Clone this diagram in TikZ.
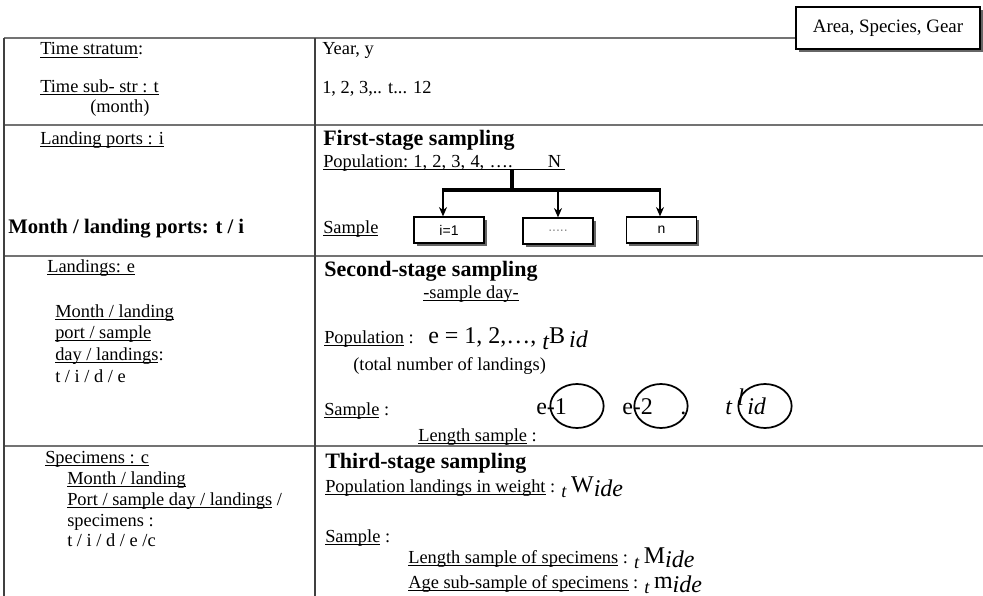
\documentclass[tikz,border=0pt]{standalone}
\usepackage{fontspec}
\setmainfont{Liberation Serif}
\newfontfamily\arialf{Liberation Sans}
\usetikzlibrary{shapes.geometric,shadows,arrows.meta}
\newcommand\myul[1]{\setbox0\hbox{#1}\rlap{\rule[-1.9pt]{\wd0}{0.6pt}}\box0\relax}
\newcommand\bigf{\fontsize{18}{20}\selectfont}
\begin{document}
\begin{tikzpicture}[x=0.75pt,y=-0.75pt,
  txt/.style={anchor=base west,inner sep=0pt,font=\fontsize{13.8}{16}\selectfont},
  hd/.style={anchor=base west,inner sep=0pt,font=\fontsize{16.5}{19}\selectfont\bfseries},
  hrule/.style={draw=black!55,line width=1.3pt},
  vrule/.style={draw=black!75,line width=1pt},
  sbox/.style={draw=black,line width=0.9pt,fill=white,minimum width=52.5pt,minimum height=19.5pt,inner sep=0pt,
    font=\arialf\fontsize{10.5}{12}\selectfont,
    drop shadow={shadow xshift=2pt,shadow yshift=-2pt,fill=black!60,opacity=1}},
  ring/.style={draw=black,line width=1.3pt,ellipse,minimum width=40pt,minimum height=33pt,inner sep=0pt},
  tree/.style={draw=black,line width=2.4pt},
  arr/.style={draw=black,line width=1pt,-{Stealth[length=7pt,width=6pt]}}
]
\useasboundingbox (0,0) rectangle (983,596);
% table
\draw[hrule] (4,38) -- (983,38);
\draw[hrule] (4,125) -- (983,125);
\draw[hrule] (4,256) -- (983,256);
\draw[hrule] (4,446) -- (983,446);
\draw[vrule] (4,38) -- (4,596);
\draw[vrule] (315,38) -- (315,596);
% top box
\node[draw=black,line width=0.9pt,fill=white,minimum width=138pt,minimum height=31.5pt,inner sep=0pt,
  font=\fontsize{14.2}{16}\selectfont,
  drop shadow={shadow xshift=2.2pt,shadow yshift=-2.2pt,fill=black!60,opacity=1}] (asg) at (888,28) {Area, Species, Gear};
% left column
\node[txt] (n1) at (40,55) {\myul{Time stratum}:};
\node[txt] (n2) at (40,92) {\myul{Time sub- str : t}};
\node[txt] (n3) at (90,112) {(month)};
\node[txt] (n4) at (40,144) {\myul{Landing ports : i}};
\node[txt,font=\fontsize{15.5}{18}\selectfont\bfseries] (n5) at (8,233) {Month / landing ports: t / i};
\node[txt] (n6) at (47,272) {\myul{Landings: e}};
\node[txt] (n7) at (55,317) {\myul{Month / landing}};
\node[txt] (n8) at (55,338) {\myul{port / sample}};
\node[txt] (n9) at (55,360) {\myul{day / landings}:};
\node[txt] (n10) at (55,382) {t / i / d / e};
\node[txt] (n11) at (45,463) {\myul{Specimens : c}};
\node[txt] (n12) at (67,484) {\myul{Month / landing}};
\node[txt] (n13) at (67,505) {\myul{Port / sample day / landings} /};
\node[txt] (n14) at (67,526) {specimens :};
\node[txt] (n15) at (67,546) {t / i / d / e /c};
% right column, row 1
\node[txt] (r1) at (322,55) {Year, y};
\node[txt] (r2) at (322,93) {1, 2, 3,.. t... 12};
% first stage
\node[hd] (r3) at (323,145) {First-stage sampling};
\node[txt] (r4) at (323,167) {\myul{\hbox to 181.5pt{\hbox to 142pt{Population:\hfill 1,\hfill 2,\hfill 3,\hfill 4,\hfill ….}\hfill N\hspace{3pt}}}};
\node[txt] (r5) at (323,233) {\myul{Sample}};
\node[sbox] (b1) at (449,230) {i=1};
\node[sbox,text=black!45] (b2) at (558,231) {.....};
\node[sbox] (b3) at (661.5,230) {n};
\coordinate (stemtop) at (512,170);
\coordinate (hub) at (512,190);
\coordinate (a1) at (443,190);
\coordinate (a2) at (558,190);
\coordinate (a3) at (660,190);
\draw[tree] (stemtop) -- (hub);
\draw[tree] ([xshift=-0.9pt]a1) -- ([xshift=0.9pt]a3);
\draw[arr] (a1) -- (a1 |- b1.north);
\draw[arr] (a2) -- (a2 |- b2.north);
\draw[arr] (a3) -- (a3 |- b3.north);
% second stage
\node[hd] (r6) at (324,276) {Second-stage sampling};
\node[txt] (r7) at (423,298) {\myul{-sample day-}};
\node[txt] (r8) at (324,343) {\myul{Population} :};
\node[txt] (f1) at (428,343) {\bigf e = 1, 2,…, \raisebox{-5pt}{\itshape t}B\,\raisebox{-3.5pt}{\itshape id}};
\node[txt] (r9) at (353,370) {(total number of landings)};
\node[txt] (r10) at (324,415) {\myul{Sample} :};
\node[txt] (e1) at (536,414) {\bigf e-1};
\node[txt] (e2) at (622,414) {\bigf e-2};
\node[txt] (e2d) at (680,414) {\bigf .};
\node[txt] (e3t) at (725,414) {\bigf\itshape t};
\node[txt] (e3l) at (737,405) {\bigf\itshape l};
\node[txt] (e3i) at (747,414) {\bigf\itshape id};
\node[ring] (c1) at (577,406) {};
\node[ring] (c2) at (661,406) {};
\node[ring] (c3) at (765,406) {};
\node[txt] (r11) at (418,441) {\myul{Length sample} :};
% third stage
\node[hd] (r12) at (325,468) {Third-stage sampling};
\node[txt] (r13) at (325,492) {\myul{Population landings in weight} : \raisebox{-4pt}{\itshape t} {\bigf W\raisebox{-3pt}{\itshape ide}}};
\node[txt] (r14) at (325,542) {\myul{Sample} :};
\node[txt] (r15) at (408,563) {\myul{Length sample of specimens} : \raisebox{-4pt}{\itshape t} {\bigf M\raisebox{-3pt}{\itshape ide}}};
\node[txt] (r16) at (408,588) {\myul{Age sub-sample of specimens} : \raisebox{-4pt}{\itshape t} {\bigf m\raisebox{-3pt}{\itshape ide}}};
\end{tikzpicture}
\end{document}
